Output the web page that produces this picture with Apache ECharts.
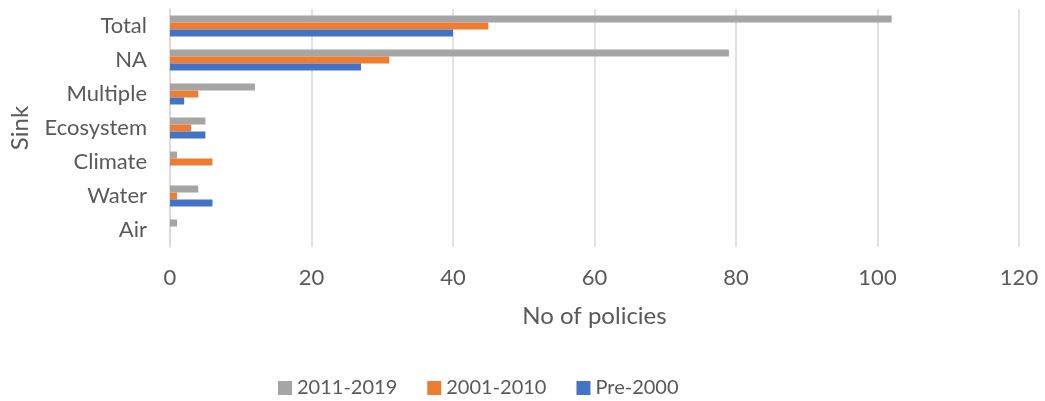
<!DOCTYPE html>
<html><head><meta charset="utf-8">
<script src="https://cdn.jsdelivr.net/npm/echarts@6/dist/echarts.min.js"></script>
<style>html,body{margin:0;padding:0;background:#fff}#c{width:1045px;height:401px}</style>
</head><body><div id="c"></div>
<script>
// categories bottom-to-top
const categories = ['Air', 'Water', 'Climate', 'Ecosystem', 'Multiple', 'NA', 'Total'];
const pre2000 = [0, 6, 0, 5, 2, 27, 40];
const s2001_2010 = [0, 1, 6, 3, 4, 31, 45];
const s2011_2019 = [1, 4, 1, 5, 12, 79, 102];
const xTicks = [0, 20, 40, 60, 80, 100, 120];

const font = 'Lato, "Open Sans", sans-serif';
const txt = '#595959';
const chart = echarts.init(document.getElementById('c'));
chart.setOption({
  animation: false,
  textStyle: { fontFamily: font },
  grid: { left: 170, right: 26, top: 9, bottom: 154, containLabel: false, outerBoundsMode: 'none' },
  legend: {
    top: 373, left: 273, itemWidth: 14, itemHeight: 14, itemGap: 30,
    icon: 'rect',
    textStyle: { color: txt, fontSize: 20, fontFamily: font },
    data: ['2011-2019', '2001-2010', 'Pre-2000']
  },
  xAxis: {
    type: 'value', min: xTicks[0], max: xTicks[xTicks.length - 1], interval: 20,
    name: 'No of policies', nameLocation: 'middle', nameGap: 57,
    nameTextStyle: { color: txt, fontSize: 24, fontFamily: font },
    axisLine: { show: false }, axisTick: { show: false },
    axisLabel: { color: txt, fontSize: 22, margin: 20, fontFamily: font },
    splitLine: { show: true, lineStyle: { color: '#d9d9d9', width: 1.5 } }
  },
  yAxis: {
    type: 'category', data: categories,
    name: 'Sink', nameLocation: 'middle', nameGap: 138, nameRotate: 90,
    nameTextStyle: { color: txt, fontSize: 24, fontFamily: font },
    axisLine: { show: true, lineStyle: { color: '#d9d9d9', width: 1.5 } },
    axisTick: { show: false },
    axisLabel: { color: txt, fontSize: 22, margin: 23, fontFamily: font }
  },
  series: [
    { name: '2011-2019', type: 'bar', data: s2011_2019, barWidth: 7, barGap: '0%', itemStyle: { color: '#A5A5A5' } },
    { name: '2001-2010', type: 'bar', data: s2001_2010, barWidth: 7, barGap: '0%', itemStyle: { color: '#ED7D31' } },
    { name: 'Pre-2000', type: 'bar', data: pre2000, barWidth: 7, barGap: '0%', itemStyle: { color: '#4472C4' } }
  ]
});
</script></body></html>
